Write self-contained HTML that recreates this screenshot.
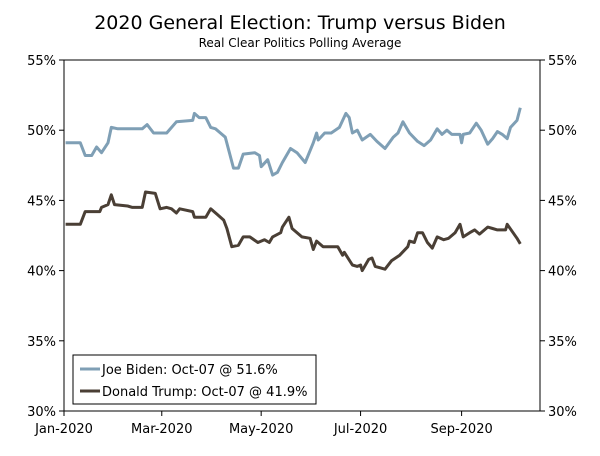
<!DOCTYPE html>
<html><head><meta charset="utf-8"><style>
body{margin:0;background:#fff}
svg text{font-family:"DejaVu Sans","Liberation Sans",sans-serif;fill:#000}
</style></head><body>
<svg width="600" height="451" viewBox="0 0 600 451">
<text x="300" y="29" text-anchor="middle" font-size="19">2020 General Election: Trump versus Biden</text>
<text x="300" y="47" text-anchor="middle" font-size="12">Real Clear Politics Polling Average</text>
<g id="axes"></g>
<g id="series"></g>
<g>
<rect x="73" y="355" width="243" height="49" fill="#fff" stroke="#000" stroke-width="1"/>
<line x1="80" y1="369" x2="100" y2="369" stroke="#7f9fb5" stroke-width="3"/>
<text x="102" y="374" font-size="13">Joe Biden: Oct-07 @ 51.6%</text>
<line x1="80" y1="391" x2="100" y2="391" stroke="#4a3f35" stroke-width="3"/>
<text x="102" y="396" font-size="13">Donald Trump: Oct-07 @ 41.9%</text>
</g>
</svg>
<script>
const yTicks=[30,35,40,45,50,55];
const xTickDays=[0,60,121,182,244];
const xTickLabels=["Jan-2020","Mar-2020","May-2020","Jul-2020","Sep-2020"];
const bidenDays=[1,10,13,17,20,23,27,29,33,48,51,55,63,69,79,80,83,87,90,93,96,99,104,107,110,117,120,121,125,128,131,134,139,143,148,153,155,156,160,164,169,173,175,177,180,183,188,192,197,202,205,208,212,217,221,225,229,232,235,238,243,244,245,249,253,256,260,263,266,269,272,274,278,280];
const bidenVals=[49.1,49.1,48.2,48.2,48.8,48.4,49.1,50.2,50.1,50.1,50.4,49.8,49.8,50.6,50.7,51.2,50.9,50.9,50.2,50.1,49.8,49.5,47.3,47.3,48.3,48.4,48.2,47.4,47.9,46.8,47.0,47.7,48.7,48.4,47.7,49.1,49.8,49.3,49.8,49.8,50.2,51.2,50.9,49.8,50.0,49.3,49.7,49.2,48.7,49.5,49.8,50.6,49.8,49.2,48.9,49.3,50.1,49.7,50.0,49.7,49.7,49.1,49.7,49.8,50.5,50.0,49.0,49.4,49.9,49.7,49.4,50.2,50.7,51.6];
const trumpDays=[1,10,13,22,23,27,29,31,39,42,48,50,56,59,63,66,69,71,79,80,83,87,90,94,98,100,103,107,110,114,119,123,126,128,133,134,138,140,146,151,153,155,159,168,171,172,177,180,182,183,187,189,191,197,201,206,211,212,215,217,220,223,226,229,233,236,240,243,245,249,252,255,260,263,266,271,272,275,278,280];
const trumpVals=[43.3,43.3,44.2,44.2,44.5,44.7,45.4,44.7,44.6,44.5,44.5,45.6,45.5,44.4,44.5,44.4,44.1,44.4,44.2,43.8,43.8,43.8,44.4,44.0,43.6,43.0,41.7,41.8,42.4,42.4,42.0,42.2,42.0,42.4,42.7,43.1,43.8,43.0,42.4,42.3,41.5,42.1,41.7,41.7,41.1,41.3,40.4,40.3,40.4,40.0,40.8,40.9,40.3,40.1,40.7,41.1,41.7,42.1,42.0,42.7,42.7,42.0,41.6,42.4,42.2,42.3,42.7,43.3,42.4,42.7,42.9,42.6,43.1,43.0,42.9,42.9,43.3,42.8,42.3,41.9];
const L=64,R=540,T=60,B=411;
const X=d=>L+d*1.6295;
const Y=v=>B-(v-30)*(B-T)/25;
const NS="http://www.w3.org/2000/svg";
function mk(tag,attrs,parent){const e=document.createElementNS(NS,tag);for(const k in attrs)e.setAttribute(k,attrs[k]);parent.appendChild(e);return e;}
const ax=document.getElementById('axes');
const frame=mk('rect',{x:L,y:T,width:R-L,height:B-T,fill:'none',stroke:'#000','stroke-width':1},ax);


yTicks.forEach(v=>{
 const y=Y(v);
 const t1=mk('line',{x1:L-5,y1:y,x2:L,y2:y,stroke:'#000'},ax);
 
 
 const t2=mk('line',{x1:R,y1:y,x2:R+5,y2:y,stroke:'#000'},ax);
 
 
 const a=mk('text',{x:L-8,y:y+5,'text-anchor':'end','font-size':13},ax);a.textContent=v+'%';
 
 
 const b=mk('text',{x:R+8,y:y+5,'font-size':13},ax);b.textContent=v+'%';
 
 
});
xTickDays.forEach((d,i)=>{
 const x=X(d);
 const t=mk('line',{x1:x,y1:B,x2:x,y2:B+5,stroke:'#000'},ax);
 
 
 const l=mk('text',{x:x,y:B+22,'text-anchor':'middle','font-size':13},ax);l.textContent=xTickLabels[i];
 
 
});
const sg=document.getElementById('series');
function line(days,vals,color,name){
 const pts=days.map((d,i)=>X(d).toFixed(1)+','+Y(vals[i]).toFixed(1)).join(' ');
 const p=mk('polyline',{points:pts,fill:'none',stroke:color,'stroke-width':3,'stroke-linejoin':'round'},sg);
 
 
}
line(bidenDays,bidenVals,'#7f9fb5','biden-line');
line(trumpDays,trumpVals,'#4a3f35','trump-line');
</script>
</body></html>
